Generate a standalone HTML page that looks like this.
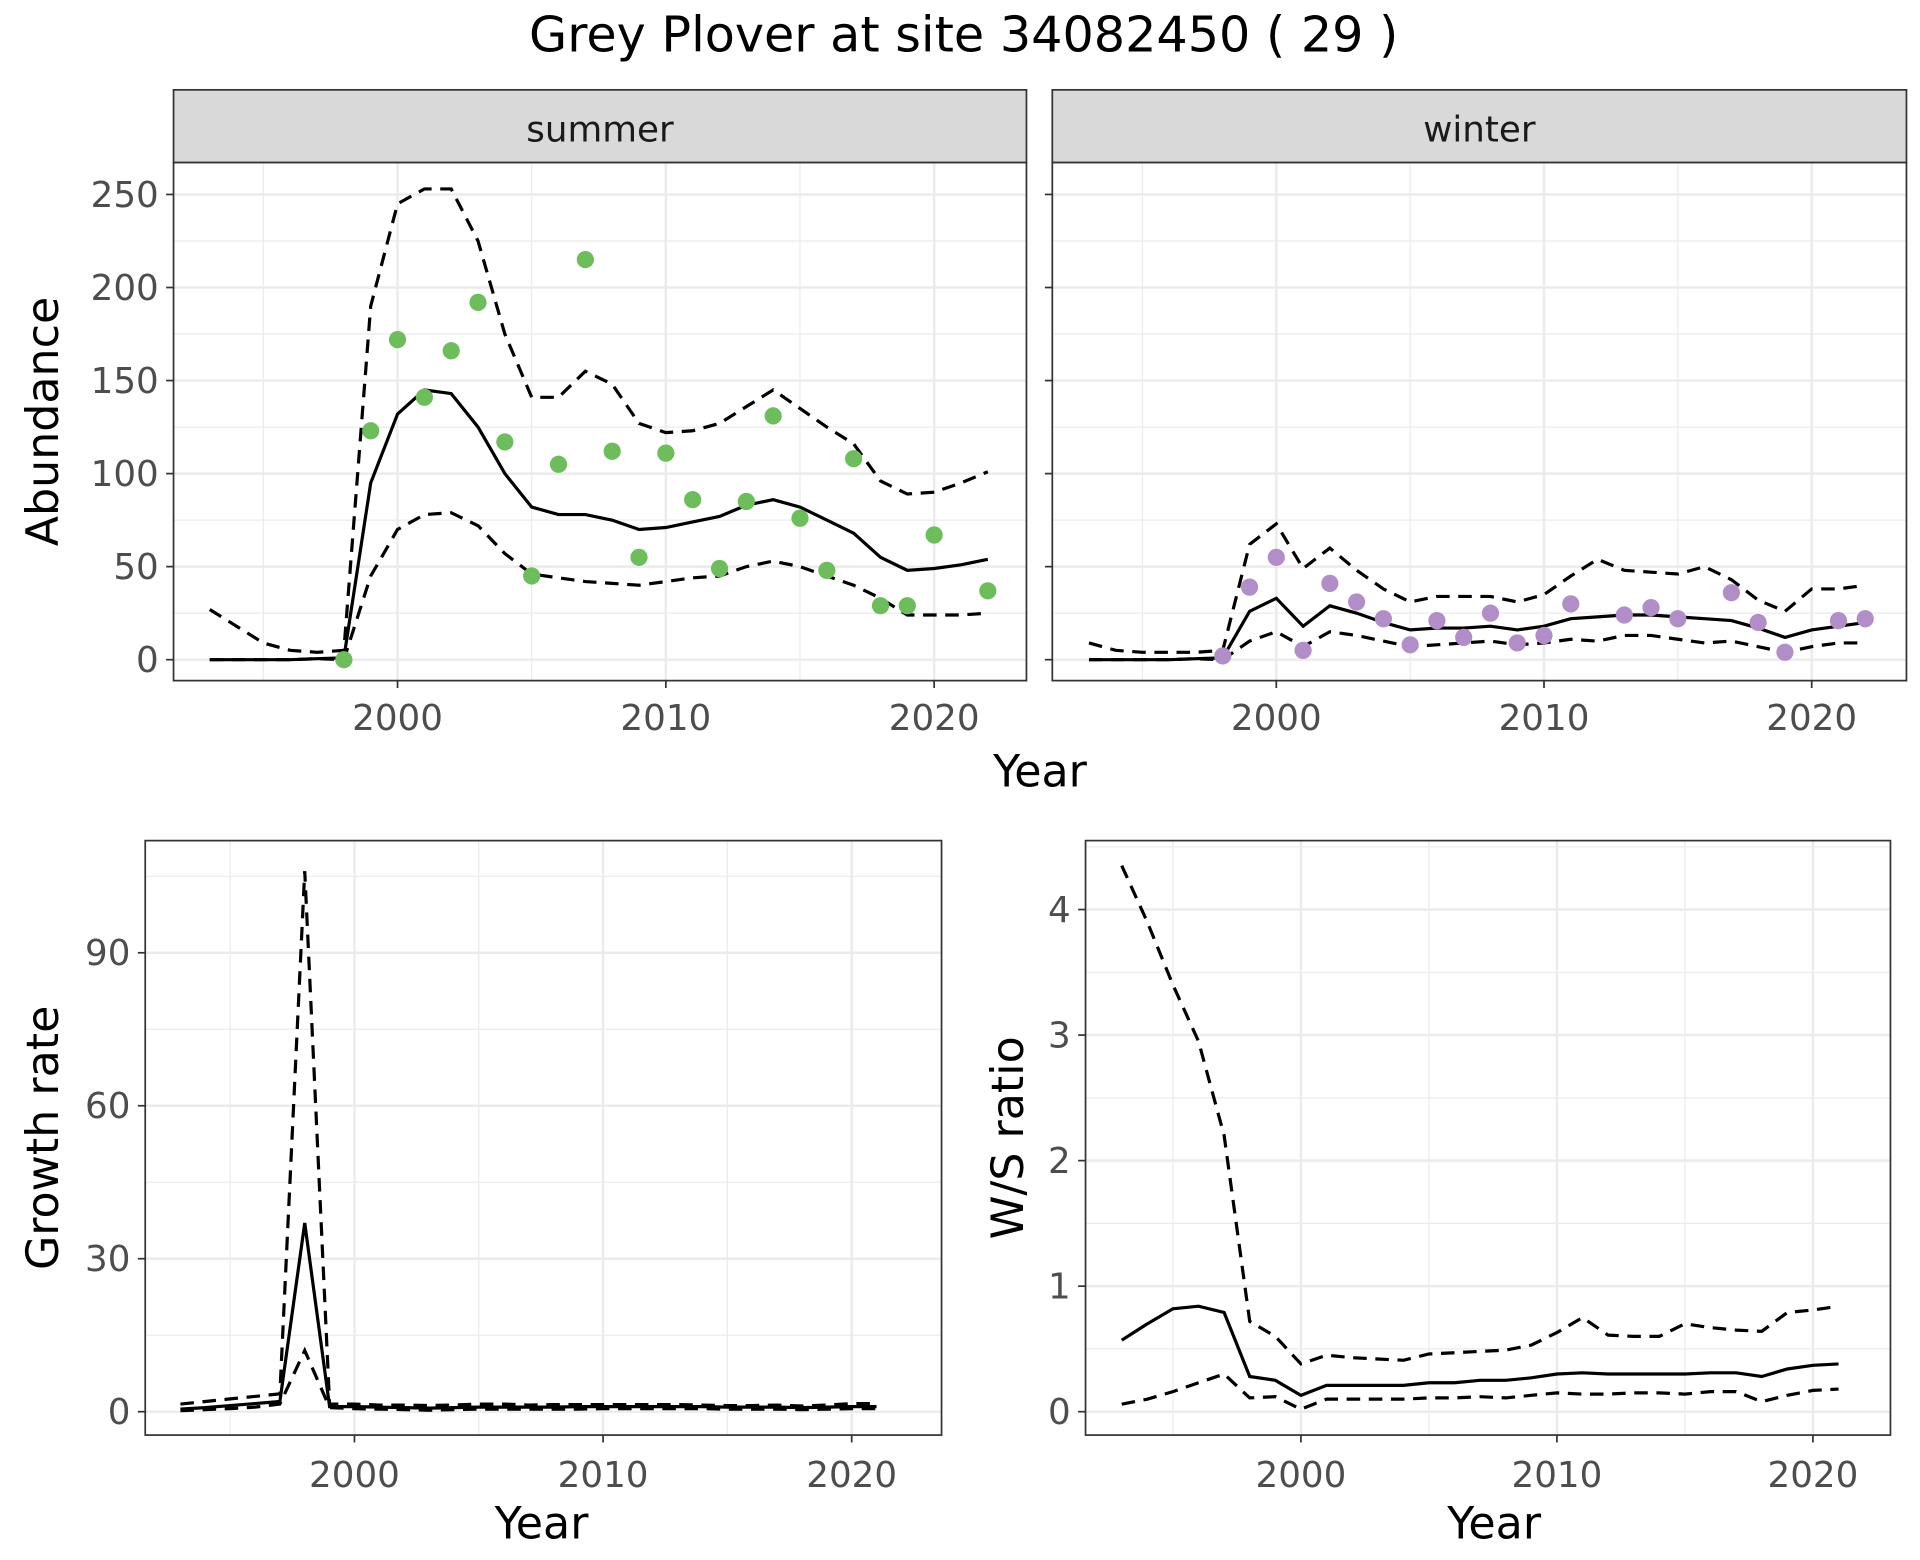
<!DOCTYPE html>
<html><head><meta charset="utf-8"><style>
html,body{margin:0;padding:0;background:#fff;}
svg{display:block;font-family:"DejaVu Sans","Liberation Sans",sans-serif;}
</style></head><body>
<svg id="chart" width="1920" height="1560" viewBox="0 0 1560 1267.5" xmlns="http://www.w3.org/2000/svg">
<text x="783" y="42" font-size="40" text-anchor="middle">Grey Plover at site 34082450 ( 29 )</text>
</svg>
<script>
const yearsA = [1993,1994,1995,1996,1997,1998,1999,2000,2001,2002,2003,2004,2005,2006,2007,2008,2009,2010,2011,2012,2013,2014,2015,2016,2017,2018,2019,2020,2021,2022];
const summerMid = [0,0,0,0,0.5,1,95,132,145,143,125,100,82,78,78,75,70,71,74,77,83,86,82,75,68,55,48,49,51,54];
const summerHi = [27,18,9,5,4,5,190,245,253,253,225,175,141,141,155,148,127,122,123,127,136,145,135,125,116,96,89,90,95,101];
const summerLo = [0,0,0,0,0.5,0,45,70,78,79,72,57,46,44,42,41,40,42,44,45,50,53,50,45,40,33,24,24,24,25];
const summerPtYears = [1998,1999,2000,2001,2002,2003,2004,2005,2006,2007,2008,2009,2010,2011,2012,2013,2014,2015,2016,2017,2018,2019,2020,2022];
const summerPts = [0,123,172,141,166,192,117,45,105,215,112,55,111,86,49,85,131,76,48,108,29,29,67,37];
const winterMid = [0,0,0,0,0.5,1,26,33,18,29,25,20,16,17,17,18,16,18,22,23,24,24,23,22,21,17,12,16,18,20];
const winterHi = [9,5,4,4,4,5,62,73,49,60,48,38,31,34,34,34,31,35,45,54,48,47,46,50,43,32,26,38,38,40];
const winterLo = [0,0,0,0,0.5,0,10,15,7,15,13,10,7,8,9,10,8,9,11,10,13,13,11,9,10,7,4,7,9,9];
const winterPtYears = [1998,1999,2000,2001,2002,2003,2004,2005,2006,2007,2008,2009,2010,2011,2013,2014,2015,2017,2018,2019,2021,2022];
const winterPts = [2,39,55,5,41,31,22,8,21,12,25,9,13,30,24,28,22,36,20,4,21,22];
const yearsB = [1993,1994,1995,1996,1997,1998,1999,2000,2001,2002,2003,2004,2005,2006,2007,2008,2009,2010,2011,2012,2013,2014,2015,2016,2017,2018,2019,2020,2021];
const growthMid = [0.5,0.8,1.2,1.6,2,37,1,1,0.9,0.8,0.7,0.8,0.9,0.9,0.9,0.9,1,1,1,1,1,1,0.9,0.9,0.9,0.8,0.9,1,1];
const growthHi = [1.5,2,2.5,3,3.5,106,1.5,1.5,1.3,1.3,1.2,1.3,1.5,1.5,1.3,1.4,1.4,1.4,1.4,1.4,1.4,1.3,1.2,1.2,1.3,1.1,1.3,1.6,1.6];
const growthLo = [0.2,0.4,0.6,0.9,1.5,12,0.8,0.6,0.5,0.4,0.3,0.4,0.5,0.5,0.5,0.5,0.5,0.6,0.6,0.6,0.6,0.6,0.5,0.5,0.5,0.4,0.5,0.6,0.6];
const ratioMid = [0.57,0.7,0.82,0.84,0.79,0.28,0.25,0.13,0.21,0.21,0.21,0.21,0.23,0.23,0.25,0.25,0.27,0.30,0.31,0.30,0.30,0.30,0.30,0.31,0.31,0.28,0.34,0.37,0.38];
const ratioHi = [4.35,3.9,3.4,2.95,2.2,0.72,0.6,0.38,0.45,0.43,0.42,0.41,0.46,0.47,0.48,0.49,0.53,0.63,0.75,0.61,0.60,0.60,0.70,0.67,0.65,0.64,0.79,0.81,0.84];
const ratioLo = [0.06,0.1,0.16,0.23,0.3,0.11,0.12,0.02,0.1,0.1,0.1,0.1,0.11,0.11,0.12,0.11,0.13,0.15,0.14,0.14,0.15,0.15,0.14,0.16,0.16,0.08,0.13,0.17,0.18];
const xTicks = [2000,2010,2020];
const abTicks = [0,50,100,150,200,250];
const grTicks = [0,30,60,90];
const raTicks = [0,1,2,3,4];

const NS="http://www.w3.org/2000/svg";
const svg=document.getElementById('chart');
function el(tag,attrs,parent){const e=document.createElementNS(NS,tag);for(const k in attrs)e.setAttribute(k,attrs[k]);(parent||svg).appendChild(e);return e;}

function panel(cfg){
  const g=el('g',{});
  
  
  const {x0,x1,y0,y1}=cfg;
  const sx=v=>cfg.xa+(v-2000)*cfg.xs;
  const sy=v=>cfg.ya-v*cfg.ys;
  [1995,2005,2015].forEach(v=>{const l=el('line',{x1:sx(v),x2:sx(v),y1:y0,y2:y1,stroke:'#ebebeb','stroke-width':1},g);});
  cfg.yTicks.forEach(v=>{const m=v+(cfg.yTicks[1]-cfg.yTicks[0])/2;const py=sy(m);if(py>y0){const l=el('line',{x1:x0,x2:x1,y1:py,y2:py,stroke:'#ebebeb','stroke-width':1},g);}});
  xTicks.forEach(v=>{const l=el('line',{x1:sx(v),x2:sx(v),y1:y0,y2:y1,stroke:'#ebebeb','stroke-width':2},g);});
  cfg.yTicks.forEach(v=>{const l=el('line',{x1:x0,x2:x1,y1:sy(v),y2:sy(v),stroke:'#ebebeb','stroke-width':2},g);});
  const line=(ys,arr,dash,nm)=>{const d=ys.map((y,i)=>(i?'L':'M')+sx(y).toFixed(1)+','+sy(arr[i]).toFixed(1)).join('');const p=el('path',{d,fill:'none',stroke:'#000','stroke-width':2.6,'stroke-dasharray':dash||'none'},g);};
  line(cfg.years,cfg.hi,'11,7','upper-bound-line');
  line(cfg.years,cfg.lo,'11,7','lower-bound-line');
  line(cfg.years,cfg.mid,null,'estimate-line');
  if(cfg.pts){cfg.ptYears.forEach((y,i)=>{const c=el('circle',{cx:sx(y),cy:sy(cfg.pts[i]),r:7,fill:cfg.color},g);});}
  const b=el('rect',{x:x0,y:y0,width:x1-x0,height:y1-y0,fill:'none',stroke:'#333','stroke-width':1.4},g);
  
  xTicks.forEach(v=>{el('line',{x1:sx(v),x2:sx(v),y1:y1,y2:y1+6,stroke:'#333','stroke-width':1.4},g);const t=el('text',{x:sx(v),y:y1+cfg.tickDy,'font-size':29,fill:'#4d4d4d','text-anchor':'middle'},g);t.textContent=v;});
  cfg.yTicks.forEach(v=>{el('line',{x1:x0-6,x2:x0,y1:sy(v),y2:sy(v),stroke:'#333','stroke-width':1.4},g);if(cfg.showY){const t=el('text',{x:x0-12,y:sy(v)+10,'font-size':29,fill:'#4d4d4d','text-anchor':'end'},g);t.textContent=v;}});
  if(cfg.strip){const r=el('rect',{x:x0,y:73,width:x1-x0,height:y0-73,fill:'#d9d9d9',stroke:'#333','stroke-width':1.4},g);const t=el('text',{x:(x0+x1)/2,y:115,'font-size':29,fill:'#1a1a1a','text-anchor':'middle'},g);t.textContent=cfg.strip;}
  if(cfg.xlab){const t=el('text',{x:cfg.xlabX,y:cfg.xlabY,'font-size':36,'text-anchor':'middle'},g);t.textContent='Year';}
  if(cfg.ylab){const t=el('text',{x:0,y:0,'font-size':36,'text-anchor':'middle',transform:`translate(${cfg.ylabX},${cfg.ylabY||(y0+y1)/2}) rotate(-90)`},g);t.textContent=cfg.ylab;}
}
panel({name:'summer-panel',x0:141,x1:834,y0:132,y1:553,xa:323,xs:21.8,ya:536,ys:1.512,yTicks:abTicks,tickDy:40,years:yearsA,mid:summerMid,hi:summerHi,lo:summerLo,ptYears:summerPtYears,pts:summerPts,color:'#6dbd5c',showY:true,strip:'summer',ylab:'Abundance',ylabX:47,xlab:true,xlabX:845,xlabY:639});
panel({name:'winter-panel',x0:855,x1:1549,y0:132,y1:553,xa:1037,xs:21.75,ya:536,ys:1.512,yTicks:abTicks,tickDy:40,years:yearsA,mid:winterMid,hi:winterHi,lo:winterLo,ptYears:winterPtYears,pts:winterPts,color:'#b28ec8',showY:false,strip:'winter'});
panel({name:'growth-rate-panel',x0:118,x1:765,y0:683,y1:1166,xa:288,xs:20.2,ya:1147,ys:4.143,yTicks:grTicks,tickDy:42,years:yearsB,mid:growthMid,hi:growthHi,lo:growthLo,showY:true,ylab:'Growth rate',ylabX:47,xlab:true,xlabX:440,xlabY:1250});
panel({name:'ratio-panel',x0:882,x1:1536,y0:683,y1:1166,xa:1057,xs:20.8,ya:1147,ys:102,yTicks:raTicks,tickDy:42,years:yearsB,mid:ratioMid,hi:ratioHi,lo:ratioLo,showY:true,ylab:'W/S ratio',ylabX:831,xlab:true,xlabX:1214,xlabY:1250});
</script>
</body></html>
